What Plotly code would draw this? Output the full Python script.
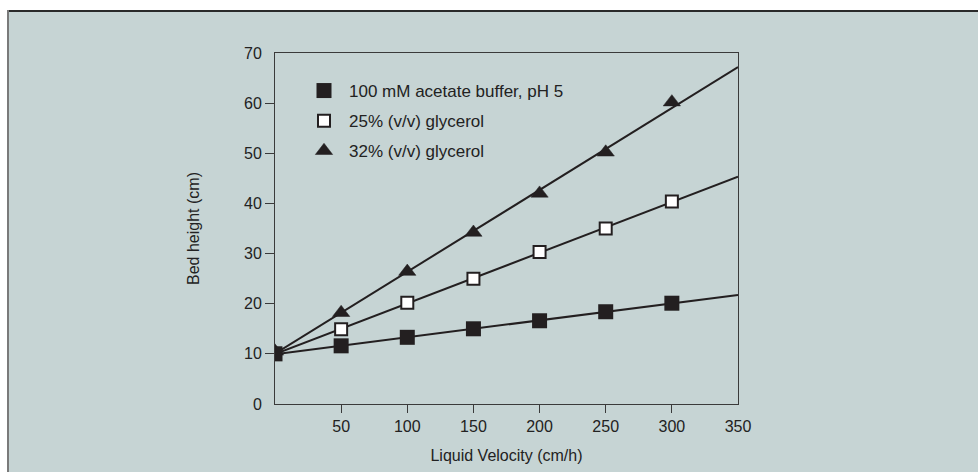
import numpy as np
import plotly.graph_objects as go

# Liquid velocity (cm/h) and expanded bed height (cm) for each mobile phase
velocity = [0, 50, 100, 150, 200, 250, 300]
series_names = ["100 mM acetate buffer, pH 5", "25% (v/v) glycerol", "32% (v/v) glycerol"]
height_buffer = [10.0, 11.6, 13.3, 15.0, 16.6, 18.4, 20.1]
height_gly25 = [10.0, 14.9, 20.2, 25.0, 30.3, 35.0, 40.4]
height_gly32 = [10.5, 18.2, 26.4, 34.2, 42.0, 50.2, 60.2]

x_ticks = [50, 100, 150, 200, 250, 300]
x_labels_only = [350]
y_ticks = [10, 20, 30, 40, 50, 60]
y_labels_only = [0, 70]

INK = "#231f20"
PANEL = "#c6d4d4"
FONT = "Liberation Sans, Arial, sans-serif"

W, H = 978, 472
L, R, T, B = 275, 240, 53, 68
pw, ph = W - L - R, H - T - B


def px_x(p):
    return (p - L) / pw


def px_y(p):
    return (H - B - p) / ph


fig = go.Figure()

# linear fits drawn across the full velocity range
x_fit = np.array([0, 350])
for y in (height_buffer, height_gly25, height_gly32):
    k, b = np.polyfit(velocity, y, 1)
    fig.add_trace(go.Scatter(x=x_fit, y=k * x_fit + b, mode="lines",
                             line=dict(color=INK, width=2), showlegend=False,
                             hoverinfo="skip"))

# markers: triangles underneath, filled squares on top
fig.add_trace(go.Scatter(x=velocity, y=height_gly32, mode="markers", name=series_names[2],
                         legendrank=3, legendgroup="c",
                         marker=dict(symbol="triangle-up", size=15, color=INK,
                                     line=dict(color=INK, width=0.5))))
fig.add_trace(go.Scatter(x=velocity, y=height_gly25, mode="markers", name=series_names[1],
                         legendrank=2, legendgroup="b",
                         marker=dict(symbol="square", size=12, color="white",
                                     line=dict(color=INK, width=2))))
fig.add_trace(go.Scatter(x=velocity, y=height_buffer, mode="markers", name=series_names[0],
                         legendrank=1, legendgroup="a",
                         marker=dict(symbol="square", size=15, color=INK,
                                     line=dict(color=INK, width=0))))

# extra axes carrying the end labels that have no tick marks
fig.add_trace(go.Scatter(x=[None], y=[None], xaxis="x2", yaxis="y2", showlegend=False))

tick_font = dict(size=16, color="#222", family=FONT)
axis_common = dict(showgrid=False, zeroline=False, showline=True, linecolor="#3a3a3a",
                   linewidth=1, tickfont=tick_font, ticks="outside", tickwidth=1,
                   tickcolor="#3a3a3a", automargin=False)

fig.update_layout(
    width=W, height=H,
    margin=dict(l=L, r=R, t=T, b=B, autoexpand=False),
    paper_bgcolor=PANEL, plot_bgcolor=PANEL,
    font=dict(family=FONT, color="#222", size=16),
    xaxis=dict(range=[0, 350], tickvals=x_ticks, mirror=True, ticklen=8,
               title=dict(text="Liquid Velocity (cm/h)", font=dict(size=16), standoff=15),
               **axis_common),
    yaxis=dict(range=[0, 70], tickvals=y_ticks, mirror=True, ticklen=9,
               title=dict(text="Bed height (cm)", font=dict(size=16), standoff=40),
               **axis_common),
    xaxis2=dict(overlaying="x", range=[0, 350], tickvals=x_labels_only, side="bottom",
                showgrid=False, zeroline=False, showline=False, ticks="outside",
                ticklen=8, tickcolor="rgba(0,0,0,0)", tickfont=tick_font, automargin=False),
    yaxis2=dict(overlaying="y", range=[0, 70], tickvals=y_labels_only, side="left",
                showgrid=False, zeroline=False, showline=False, ticks="outside",
                ticklen=9, tickcolor="rgba(0,0,0,0)", tickfont=tick_font, automargin=False),
    legend=dict(x=px_x(299), y=px_y(73), xanchor="left", yanchor="top",
                bgcolor="rgba(0,0,0,0)", borderwidth=0, traceorder="grouped",
                tracegroupgap=5, itemwidth=40,
                font=dict(size=17, color="#222", family=FONT)),
    showlegend=True,
    shapes=[
        # white page margin above and left of the panel
        dict(type="rect", xref="paper", yref="paper", x0=px_x(-5), x1=px_x(W + 5),
             y0=px_y(10), y1=px_y(-5), fillcolor="white", line=dict(width=0), layer="below"),
        dict(type="rect", xref="paper", yref="paper", x0=px_x(-5), x1=px_x(7),
             y0=px_y(H + 5), y1=px_y(-5), fillcolor="white", line=dict(width=0), layer="below"),
        # panel border
        dict(type="line", xref="paper", yref="paper", x0=px_x(7), x1=px_x(W + 5),
             y0=px_y(11), y1=px_y(11), line=dict(color="#2a2a2a", width=2), layer="below"),
        dict(type="line", xref="paper", yref="paper", x0=px_x(8), x1=px_x(8),
             y0=px_y(10), y1=px_y(H + 5), line=dict(color="#7a7a7a", width=2), layer="below"),
    ],
)

fig.write_html("out.html")
